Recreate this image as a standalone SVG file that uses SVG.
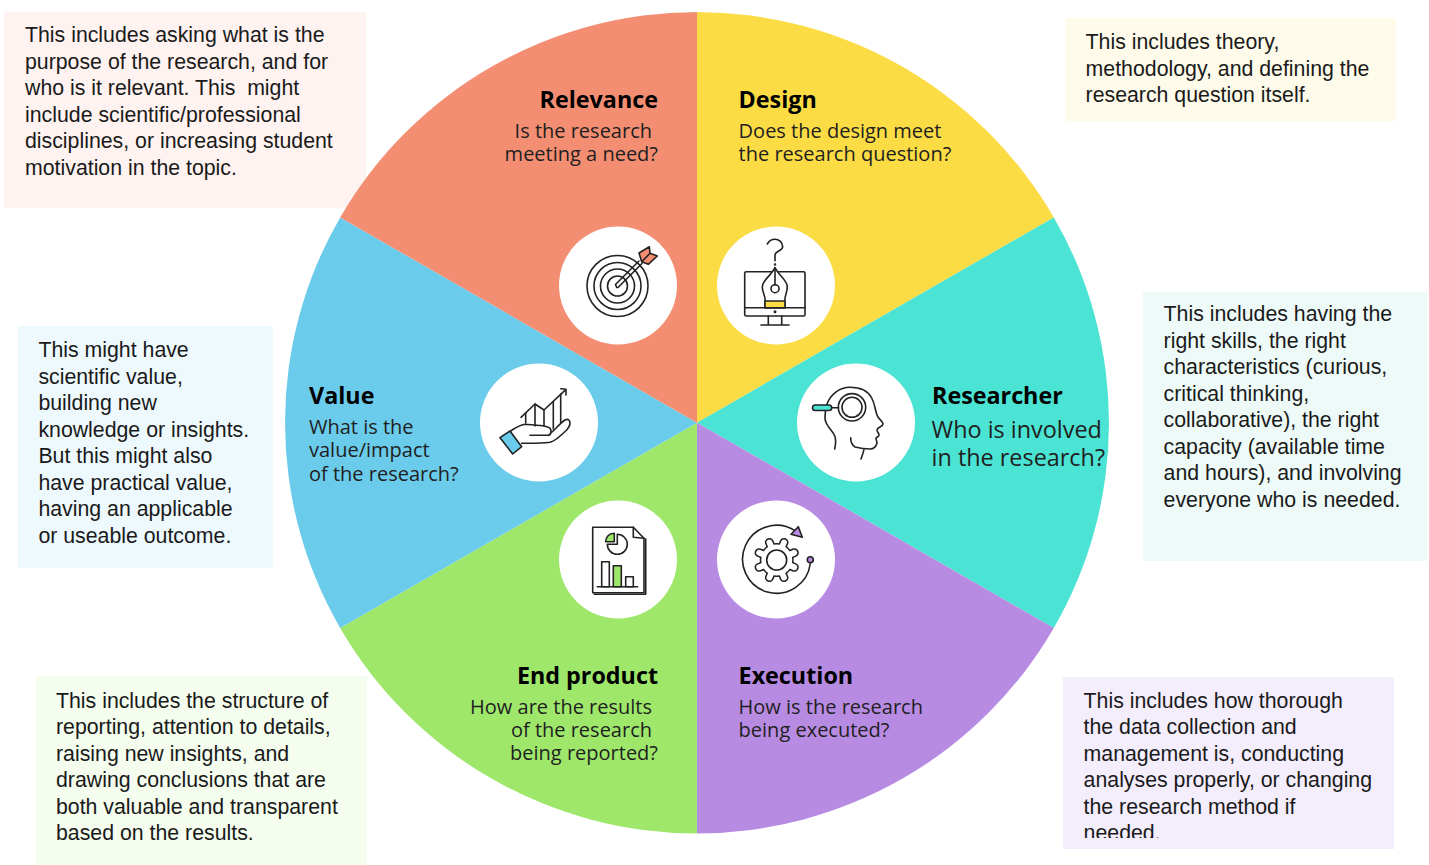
<svg xmlns="http://www.w3.org/2000/svg" width="1429" height="865" viewBox="0 0 1429 865">
<defs>
<style>
.n{font-family:"Liberation Sans",Arial,sans-serif;font-size:21.3px;fill:#1a1a1a;white-space:pre}
.t{font-family:"Open Sans","Noto Sans",sans-serif;font-size:23.3px;font-weight:700;fill:#000}
.s{font-family:"Open Sans","Noto Sans",sans-serif;font-size:20px;fill:#1f1f1f}
.e{text-anchor:end}
.i{fill:none;stroke:#222;stroke-width:1.6;stroke-linecap:round;stroke-linejoin:round}
.w{fill:#fff}
</style>
<clipPath id="cp"><rect x="1063" y="677" width="331" height="161"/></clipPath>
<path id="teeth" d="M784 577.600L769.400 542.400M794.300 567.300L759.100 552.700M794.300 552.700L759.100 567.300M784 542.400L769.400 577.600"/>
</defs>
<rect width="1429" height="865" fill="#fff"/>
<g id="callouts">
<rect x="4" y="12" width="362" height="196" fill="#fef3f0"/>
<rect x="1065" y="18" width="331" height="103" fill="#fffbea"/>
<rect x="1143" y="292" width="284" height="269" fill="#eefaf8"/>
<rect x="1063" y="677" width="331" height="172" fill="#f3edfc"/>
<rect x="36" y="676" width="331" height="189" fill="#f4fdee"/>
<rect x="18" y="326" width="255" height="242" fill="#eef9fd"/>
</g>
<g id="wheel">
<path d="M697 422.700V12A412 410.700 0 0 1 1053.800 217.400Z" fill="#fbdc45"/>
<path d="M697 422.700L1053.800 217.400A412 410.700 0 0 1 1053.800 628Z" fill="#4be3d3"/>
<path d="M697 422.700L1053.800 628A412 410.700 0 0 1 697 833.400Z" fill="#b88be3"/>
<path d="M697 422.700V833.400A412 410.700 0 0 1 340.200 628Z" fill="#9ee76b"/>
<path d="M697 422.700L340.200 628A412 410.700 0 0 1 340.200 217.400Z" fill="#6bcbeb"/>
<path d="M697 422.700L340.200 217.400A412 410.700 0 0 1 697 12Z" fill="#f48e73"/>
</g>
<g id="relevance">
<text class="n"><tspan x="25" y="42">This includes asking what is the</tspan><tspan x="25" y="69">purpose of the research, and for</tspan><tspan x="25" y="95">who is it relevant. This  might</tspan><tspan x="25" y="122">include scientific/professional</tspan><tspan x="25" y="148">disciplines, or increasing student</tspan><tspan x="25" y="175">motivation in the topic.</tspan></text>
<text class="t e" x="658" y="108">Relevance</text>
<text class="s e"><tspan x="652" y="138">Is the research</tspan><tspan x="658" y="161">meeting a need?</tspan></text>
<circle class="w" cx="618" cy="285.500" r="59"/>
<g class="i">
<circle cx="617.500" cy="286" r="30.500"/><circle cx="617.500" cy="286" r="23.500"/><circle cx="617.500" cy="286" r="17"/><circle cx="617.500" cy="286" r="10"/>
<path d="M615.500 284.500L639 261M618 287.500L642 263.500M615.500 284.500L616.700 287.500H618"/>
<path d="M649.300 246.700L639 253L641.700 261.700L648.300 264.300L657.300 256L650 253.300Z" fill="#f48e73"/>
<path d="M641.700 261.700L650 253.300"/>
</g>
</g>
<g id="design">
<text class="n"><tspan x="1085.600" y="49">This includes theory,</tspan><tspan x="1085.600" y="76">methodology, and defining the</tspan><tspan x="1085.600" y="102">research question itself.</tspan></text>
<text class="t" x="738.600" y="108">Design</text>
<text class="s"><tspan x="738.600" y="138">Does the design meet</tspan><tspan x="738.600" y="161">the research question?</tspan></text>
<circle class="w" cx="776" cy="285.500" r="59"/>
<g class="i">
<path d="M767.300 244C769 241 772 239.300 775 239.300C779 239.300 782.700 242.500 782.700 246.700C782.700 251 775 251 775 255V260.700"/><circle cx="775" cy="264.500" r=".5"/>
<rect x="744.700" y="271.700" width="60.300" height="44.300" rx="1.500"/>
<path d="M744.700 307.700H805M768.300 316V325M781.700 316V325M761 325H789"/>
<path d="M775 267.700C771 276 762.300 280 762.300 287C762.300 293 766 297 765 301V307.700H785V301C784 297 787.300 293 787.300 287C787.300 280 779 276 775 267.700Z" fill="#fff"/>
<rect x="765" y="301" width="20" height="6.700" fill="#fbdc45"/>
<circle cx="775" cy="288.700" r="4"/>
<path d="M775 268V284.700"/>
<circle cx="775" cy="311.700" r=".7" fill="#222"/>
</g>
</g>
<g id="researcher">
<text class="n"><tspan x="1163.600" y="321">This includes having the</tspan><tspan x="1163.600" y="348">right skills, the right</tspan><tspan x="1163.600" y="374">characteristics (curious,</tspan><tspan x="1163.600" y="401">critical thinking,</tspan><tspan x="1163.600" y="427">collaborative), the right</tspan><tspan x="1163.600" y="454">capacity (available time</tspan><tspan x="1163.600" y="480">and hours), and involving</tspan><tspan x="1163.600" y="507">everyone who is needed.</tspan></text>
<text class="t" x="932" y="404">Researcher</text>
<text class="s" style="font-size:23.400px"><tspan x="931.600" y="438">Who is involved</tspan><tspan x="931.600" y="466">in the research?</tspan></text>
<circle class="w" cx="856" cy="422.500" r="59"/>
<g class="i">
<path d="M834.700 449C836 443 836 440 835 436.700C833 430 825 426 825 418C825 414 825.500 409 826.700 405C830 394 840 387.300 850 387.300C860 387.300 868 391 871.700 398C875 404 875 410 877 415C878 419 883 421 883 424C883 427 877 427 877 430C877 432 879 433 879 435C879 437 876 437 876 438.500C876 440 877 441 877 443C876 447 873 449 870 449C865 449 859 448 855 447C852 445 850.700 441 850.700 437.700M864 449C863.500 453 862 456 861 459"/>
<circle cx="852" cy="407.300" r="13.700" fill="#fff"/><circle cx="852" cy="407.300" r="10"/>
<path d="M831.700 407.700H838.500"/>
<rect x="812.500" y="405" width="19.200" height="5.500" rx="2.700" fill="#4be3d3"/>
</g>
</g>
<g id="execution">
<g clip-path="url(#cp)"><text class="n"><tspan x="1083.600" y="708">This includes how thorough</tspan><tspan x="1083.600" y="734">the data collection and</tspan><tspan x="1083.600" y="761">management is, conducting</tspan><tspan x="1083.600" y="787">analyses properly, or changing</tspan><tspan x="1083.600" y="814">the research method if</tspan><tspan x="1083.600" y="840">needed.</tspan></text></g>
<text class="t" x="738.600" y="684">Execution</text>
<text class="s"><tspan x="738.600" y="714">How is the research</tspan><tspan x="738.600" y="737">being executed?</tspan></text>
<circle class="w" cx="776" cy="559.500" r="59"/>
<g class="i">
<path d="M795 530.700A34 34 0 1 0 810.300 563.500"/>
<path d="M798.300 526.700L802.300 537.300L791 534.300Z" fill="#b88be3"/>
<circle cx="810.300" cy="559.700" r="3" fill="#b88be3"/>
<use href="#teeth" style="stroke-width:9"/>
<circle cx="776.700" cy="560" r="17" fill="#222" stroke="none"/>
<use href="#teeth" style="stroke:#fff;stroke-width:5.800"/>
<circle cx="776.700" cy="560" r="15.500" fill="#fff" stroke="none"/>
<circle cx="776.700" cy="560" r="10"/>
</g>
</g>
<g id="end-product">
<text class="n"><tspan x="56" y="708">This includes the structure of</tspan><tspan x="56" y="734">reporting, attention to details,</tspan><tspan x="56" y="761">raising new insights, and</tspan><tspan x="56" y="787">drawing conclusions that are</tspan><tspan x="56" y="814">both valuable and transparent</tspan><tspan x="56" y="840">based on the results.</tspan></text>
<text class="t e" x="658" y="684">End product</text>
<text class="s e"><tspan x="652" y="714">How are the results</tspan><tspan x="652" y="737">of the research</tspan><tspan x="658" y="760">being reported?</tspan></text>
<circle class="w" cx="618" cy="559.500" r="59"/>
<g class="i">
<path d="M645.700 539V594.300H594.300"/>
<path d="M592.700 527.300H633.300L644 538.300V592.700H592.700Z" fill="#fff"/>
<path d="M633.300 527.300V537.300L644 538.300"/>
<path d="M614.300 533.300V541.700H605.700C605.700 537 609 533.300 614.300 533.300Z" fill="#9ee76b"/>
<path d="M617.300 534.300A10 10 0 1 1 607.300 544.300H617.300Z"/>
<path d="M597.300 586.700H637.700"/>
<rect x="601.700" y="561.700" width="7.600" height="25"/>
<rect x="613.300" y="565.700" width="8" height="21" fill="#9ee76b"/>
<rect x="625.700" y="576.700" width="7.600" height="10"/>
</g>
</g>
<g id="value">
<text class="n"><tspan x="38.400" y="357">This might have</tspan><tspan x="38.400" y="384">scientific value,</tspan><tspan x="38.400" y="410">building new</tspan><tspan x="38.400" y="437">knowledge or insights.</tspan><tspan x="38.400" y="463">But this might also</tspan><tspan x="38.400" y="490">have practical value,</tspan><tspan x="38.400" y="516">having an applicable</tspan><tspan x="38.400" y="543">or useable outcome.</tspan></text>
<text class="t" x="309" y="404">Value</text>
<text class="s"><tspan x="309" y="434">What is the</tspan><tspan x="309" y="457">value/impact</tspan><tspan x="309" y="481">of the research?</tspan></text>
<circle class="w" cx="539" cy="422.500" r="59"/>
<g class="i">
<path d="M521 417.300L535 404L544 410L566 389.300M560.700 388.700L566 389.300L566 395"/>
<path d="M525.700 413V423M535 404V426M544 410V426M553.300 401.700V429M560.700 394V423"/>
<path d="M510.700 431C515 428 520 425 525 424.300C532 425 540 425 546.700 426.700C550 427.500 551 429 551 431C551 433.500 550 435.300 548.300 435.300H530M548.300 435.300C554 431 559 424 565 420C568 418.500 570 420 570 423.300C570 426 568 428.500 566.700 430C561 435 556 441 550 442.300C541 443.500 531 443.300 521.700 443.300"/>
<path d="M500 437.700L510 431L521.700 446.700L512.700 454Z" fill="#6bcbeb"/>
</g>
</g>
</svg>
